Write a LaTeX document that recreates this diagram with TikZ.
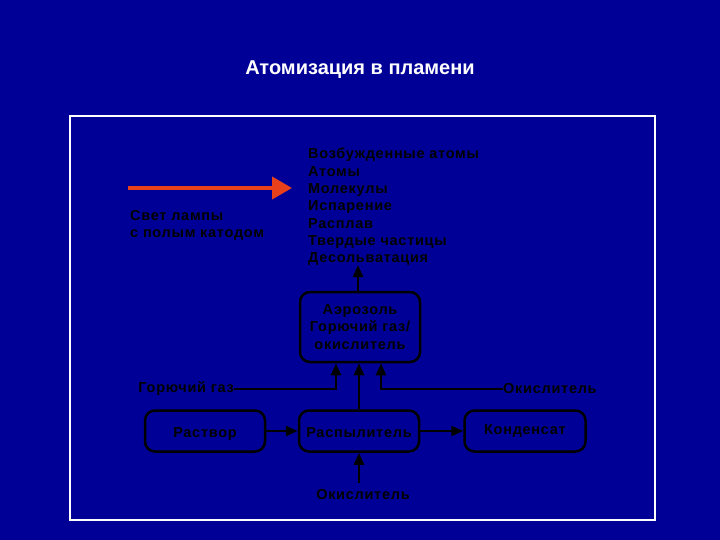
\documentclass[tikz,border=0pt]{standalone}
\usepackage{fontspec}
\setmainfont{Liberation Sans}
\newfontfamily\lbl[LetterSpace=5]{Liberation Sans}
\usetikzlibrary{arrows.meta}
\definecolor{bg}{RGB}{0,0,150}
\definecolor{lamp}{RGB}{232,64,26}
\tikzset{
  box/.style={draw=black, line width=2.5pt, rounded corners=10pt, minimum width=120pt, minimum height=41pt, inner sep=0pt, font=\lbl\bfseries\fontsize{14.5}{17.5}\selectfont, text=black, align=center},
  onebox/.style={box, text height=13pt, text depth=1pt},
  lbl/.style={font=\lbl\bfseries\fontsize{14.5}{17.3}\selectfont, text=black, inner sep=0pt},
  conn/.style={draw=black, line width=2.5pt, -{Triangle[length=12pt,width=10pt]}},
}
\begin{document}
\begin{tikzpicture}[x=1pt,y=-1pt]
\fill[bg] (0,0) rectangle (720,540);
\useasboundingbox (0,0) rectangle (720,540);
\node[text=white, font=\bfseries\fontsize{20}{22}\selectfont] (title) at (360,70) {Атомизация в пламени};
\draw[white, line width=2pt] (70,116) rectangle (655,520) ;
\node[lbl, anchor=north west, align=left] (list) at (308,148) {Возбужденные атомы\\Атомы\\Молекулы\\Испарение\\Расплав\\Твердые частицы\\Десольватация};
\coordinate (redstart) at (128,188);
\coordinate (redend) at (292,188);
\draw[lamp, line width=4pt, -{Triangle[length=20pt,width=22pt]}] (redstart) -- (redend);
\node[lbl, anchor=north west, align=left] (lamp) at (130,210) {Свет лампы\\с полым катодом};
\node[box, minimum height=70pt] (aer) at (360,327) {Аэрозоль\\Горючий газ/\\окислитель};
\node[onebox] (rast) at (205,431) {Раствор};
\node[onebox] (rasp) at (359,431) {Распылитель};
\node[onebox, minimum width=121pt] (kond) at (525,431) {\raisebox{3pt}{Конденсат}};
\coordinate (listbot) at (358,265);
\draw[conn] (aer.north -| listbot) -- (listbot);
\draw[conn] (rast) -- (rasp);
\draw[conn] (rasp) -- (kond);
\draw[conn] (rasp.north) -- (rasp.north |- aer.south);
\node[lbl, anchor=east] (gas) at (234,389) {Горючий газ};
\node[lbl, anchor=west] (ox1) at (503,389) {Окислитель};
\coordinate (gasup) at (336,389);
\coordinate (oxup) at (381,389);
\draw[conn] (gas.east) -- (gasup) -- (gasup |- aer.south);
\draw[conn] (ox1.west) -- (oxup) -- (oxup |- aer.south);
\node[lbl] (ox2) at (363,495) {Окислитель};
\coordinate (ox2top) at (359,483);
\draw[conn] (ox2top) -- (rasp.south);
\end{tikzpicture}
\end{document}
